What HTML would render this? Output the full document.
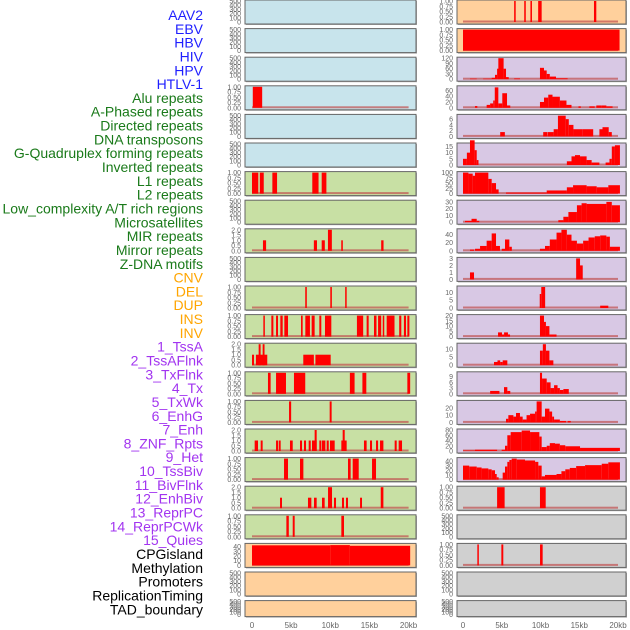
<!DOCTYPE html>
<html><head><meta charset="utf-8"><style>
html,body{margin:0;padding:0;background:#fff;}
svg{display:block;font-family:"Liberation Sans",Arial,sans-serif;}
</style></head><body>
<svg id="chart" width="630" height="630" viewBox="0 0 630 630" xmlns="http://www.w3.org/2000/svg"></svg>
<script>
const trackLabels = ["AAV2","EBV","HBV","HIV","HPV","HTLV-1","Alu repeats","A-Phased repeats","Directed repeats","DNA transposons","G-Quadruplex forming repeats","Inverted repeats","L1 repeats","L2 repeats","Low_complexity A/T rich regions","Microsatellites","MIR repeats","Mirror repeats","Z-DNA motifs","CNV","DEL","DUP","INS","INV","1_TssA","2_TssAFlnk","3_TxFlnk","4_Tx","5_TxWk","6_EnhG","7_Enh","8_ZNF_Rpts","9_Het","10_TssBiv","11_BivFlnk","12_EnhBiv","13_ReprPC","14_ReprPCWk","15_Quies","CPGisland","Methylation","Promoters","ReplicationTiming","TAD_boundary"];
const labelGroups = [0,0,0,0,0,0,1,1,1,1,1,1,1,1,1,1,1,1,1,2,2,2,2,2,3,3,3,3,3,3,3,3,3,3,3,3,3,3,3,4,4,4,4,4];
const xTickValues = [0,5,10,15,20];
const xTickLabels = ["0","5kb","10kb","15kb","20kb"];

const leftBg = ["b","b","b","b","b","b","g","g","g","g","g","g","g","g","g","g","g","g","g","o","o","o"];
const rightBg = ["o","o","l","l","l","l","l","l","l","l","l","l","l","l","l","l","l","y","y","y","y","y"];
const leftTicks = ["E","E","E","P","E","E","P","E","T","E","P","P","T","P","P","T","P","T","P",[0,10,20,30,40],"E","E"];
const leftMax = [500,500,500,1,500,500,1,500,2,500,1,1,2,1,1,2,1,2,1,45,500,500];
const rightTicks = ["P","P",[0,30,60,90,120],[0,20,40,60],[0,2,4,6],[0,5,10,15],[0,25,50,75,100],[0,10,20,30],[0,20,40],[0,1,2,3],[0,5,10],[0,5,10,15,20],[0,5,10],[0,3,6,9],[0,10,20],[0,20,40,60,80],[0,10,20,30,40],"P","E","P","E","E"];
const rightMax = [1,1,120,72,7.3,17,100,31,52,3,13.5,20,13,11,29,80,45,1,500,1,500,500];

const leftBars = [
 [],[],[],
 [[0.1,1.3,1]],
 [],[],
 [[0,0.8,1],[1.0,1.5,1],[2.6,3.2,1],[7.7,8.5,1],[8.9,9.5,1]],
 [],
 [[1.4,1.8,1],[7.9,8.3,1],[8.9,9.3,1],[9.7,10.2,2],[11.4,11.6,1],[16.5,16.8,1]],
 [],
 [[6.8,7.0,1],[10.0,10.2,1],[11.9,12.05,1]],
 [[1.45,1.6,1],[2.47,2.73,1],[3.07,3.32,1],[3.62,3.92,1],[4.13,4.6,1],[6.26,6.47,1],[6.81,7.4,1],[7.62,8.0,1],[8.6,8.85,1],[9.32,10.13,1],[13.4,14.2,1],[14.64,14.9,1],[15.58,15.9,1],[16.1,16.5,1],[16.7,16.86,1],[17.2,18.2,1],[18.8,19.07,1],[19.4,19.67,1],[19.84,20.1,1]],
 [[0,0.26,1],[0.5,1.95,1],[0.85,1.1,2],[1.36,1.6,2],[6.55,7.9,1],[8.1,10.05,1]],
 [[2.04,2.38,1],[3.07,4.34,1],[5.36,6.8,1],[12.5,13.1,1],[14.1,14.6,1],[19.84,20.2,1]],
 [[4.73,5.0,1],[9.92,10.17,1]],
 [[0.34,0.77,1],[1.11,1.36,1],[3.07,3.32,1],[3.41,3.66,1],[4.85,5.2,1],[6.13,6.39,1],[6.64,6.9,1],[7.24,7.5,1],[7.66,8.26,1],[8.0,8.26,2],[8.6,8.86,1],[8.94,9.37,1],[9.54,9.8,1],[9.96,10.56,1],[11.41,12.09,1],[11.58,11.84,2],[14.3,14.64,1],[15.07,15.33,1],[15.84,16.1,1],[16.35,16.78,1],[18.22,18.48,1],[18.73,19.16,1]],
 [[4.09,4.6,1],[6.13,6.56,1],[12.26,12.6,1],[12.86,13.63,1],[15.33,15.84,1]],
 [[3.58,3.83,1],[7.15,7.58,1],[7.92,8.26,1],[8.94,9.28,1],[9.71,10.22,2],[10.47,10.73,1],[11.49,11.75,1],[12.0,12.26,1],[13.8,14.05,1],[16.44,16.78,2]],
 [[4.39,4.7,1],[5.2,5.45,1],[11.41,11.75,1]],
 [[0,10,43],[10,12.5,43.5],[12.5,20.2,42]],
 [],[]
];

const rightBars = [
 [[6.6,6.8,1],[7.9,8.1,1],[8.7,8.9,1],[9.7,10.15,1],[16.9,17.2,1]],
 [[0,20.2,1]],
 [[0.9,1.77,3],[2.6,3.7,3],[3.7,4.13,8],[4.13,4.4,25],[4.4,4.56,60],[4.56,5.24,120],[5.24,5.55,60],[5.55,5.9,12],[6.6,7.35,4],[9.93,10.45,65],[10.45,10.8,50],[10.8,11.2,30],[11.2,12.0,15],[12.0,13.5,5]],
 [[1.55,1.85,6],[3.05,3.5,10],[3.5,3.9,15],[3.9,4.1,25],[4.1,4.56,70],[4.56,5.07,15],[5.07,5.68,50],[5.68,6.1,8],[9.93,10.45,20],[10.45,11.0,35],[11.0,11.55,45],[11.55,12.5,38],[12.5,13.35,25],[13.35,14.0,10],[14.9,15.2,5],[16.3,17.0,5],[17.2,17.9,8],[17.9,18.5,8],[18.5,19.3,5]],
 [[4.8,5.4,1.5],[10.35,10.9,1.5],[10.95,11.7,1.5],[11.7,12.25,2.5],[12.25,13.25,7.2],[13.25,13.65,6],[13.65,14.25,4],[14.25,15.45,2.5],[15.45,16.8,2.5],[17.6,18.0,2.5],[18.0,18.8,3.2],[18.8,19.2,1.5]],
 [[0,0.5,5],[0.5,0.9,10],[0.9,1.5,20],[1.5,1.77,12],[1.77,2.0,4],[13.4,14.0,3],[14.0,14.45,7],[14.45,15.1,8],[15.1,15.95,7],[15.95,16.6,4],[16.6,17.6,2],[18.4,18.9,2],[18.9,19.2,5],[19.2,19.6,15],[19.6,20.25,16]],
 [[0,0.7,100],[0.7,1.25,95],[1.25,1.55,85],[1.55,3.27,100],[3.27,3.7,70],[3.7,4.26,50],[4.26,4.6,20],[5.55,10.8,5],[10.8,13.4,15],[13.4,14.2,30],[14.2,15.95,40],[15.95,17.25,35],[17.25,18.75,30],[18.75,20.25,40]],
 [[0.26,1.1,2],[1.1,1.77,5],[1.77,2.1,2],[12.3,12.95,3],[12.95,13.6,8],[13.6,14.7,15],[14.7,15.3,25],[15.3,15.95,28],[15.95,18.5,27],[18.5,19.2,30],[19.2,20.25,25]],
 [[0.9,1.42,3],[1.55,2.2,5],[2.2,3.05,12],[3.05,3.7,25],[3.7,4.26,43],[4.26,4.77,12],[5.0,5.42,5],[5.42,5.98,28],[5.98,6.3,10],[9.93,10.58,5],[10.58,11.2,12],[11.2,12.07,28],[12.07,12.7,45],[12.7,13.4,52],[13.4,14.0,40],[14.0,14.7,25],[14.7,15.5,18],[15.5,16.2,25],[16.2,17.0,33],[17.0,17.7,36],[17.7,18.5,38],[18.5,18.95,35],[18.95,20.25,10]],
 [[0.9,1.42,1],[14.6,15.1,3],[15.1,15.45,2]],
 [[9.9,10.1,9],[10.1,10.6,13.5],[17.7,18.75,1.5]],
 [[4.52,5.03,4],[5.03,5.3,2],[5.3,5.8,4],[5.8,6.07,2],[9.93,10.45,20],[10.45,10.7,14],[10.7,11.15,10],[11.15,12.07,2]],
 [[4.0,4.45,2],[4.45,4.8,3],[4.8,5.12,2],[5.12,5.72,3],[9.93,10.3,9],[10.3,10.7,13],[10.7,11.15,9],[11.15,11.66,3]],
 [[3.5,4.7,1.5],[5.29,5.72,3.5],[5.72,6.1,1.5],[9.93,10.2,11],[10.2,10.8,8],[10.8,11.3,6],[11.3,11.75,3],[11.75,12.2,4.5],[12.2,12.5,3],[12.5,12.95,2],[12.95,13.65,2.5]],
 [[5.55,5.85,5],[5.85,6.5,10],[6.5,6.84,8],[6.84,7.35,13],[7.35,7.7,8],[7.7,8.2,4],[8.2,8.65,10],[8.65,9.3,12],[9.3,9.5,15],[9.5,10.15,29],[10.15,10.58,8],[10.58,11.15,19],[11.15,11.5,15],[11.5,11.75,8],[11.75,12.5,4],[12.5,13.3,2],[13.5,13.9,2]],
 [[0,1.55,2],[1.55,4.4,5],[4.99,5.42,5],[5.42,5.72,20],[5.72,6.15,60],[6.15,7.57,72],[7.57,8.65,78],[8.65,9.85,72],[9.85,10.15,55],[10.15,10.8,15],[10.8,11.2,20],[11.2,11.87,30],[11.87,12.5,28],[12.5,13.2,22],[13.2,15.1,18],[15.1,20.25,12]],
 [[0,0.8,30],[0.8,1.77,28],[1.77,2.4,26],[2.4,3.27,24],[3.27,3.7,22],[3.7,4.13,20],[4.13,4.35,12],[4.35,4.6,5],[5.12,5.42,15],[5.42,5.72,28],[5.72,5.98,38],[5.98,6.28,42],[6.28,6.93,45],[6.93,8.0,43],[8.0,9.3,41],[9.3,9.72,38],[9.72,10.15,30],[10.15,10.58,7],[10.58,12.07,10],[12.07,12.7,12],[12.7,13.2,18],[13.2,13.78,22],[13.78,14.6,25],[14.6,15.75,29],[15.75,17.9,31],[17.9,18.75,34],[18.75,20.25,37]],
 [[4.4,5.37,1],[9.93,10.67,1]],
 [],
 [[1.85,2.03,1],[4.95,5.2,1],[9.94,10.28,1]],
 [],[]
];

const NS = "http://www.w3.org/2000/svg";
const svg = document.getElementById("chart");
const bgColors = {b:"#c8e4ec",g:"#c8e0a4",o:"#ffd09c",l:"#d8c8e4",y:"#d0d0d0"};
const labelColors = ["#1f1fff","#1a7a1a","#ffa500","#a234f0","#000000"];
function mk(tag, attrs, parent){const e=document.createElementNS(NS,tag);for(const k in attrs)e.setAttribute(k,attrs[k]);(parent||svg).appendChild(e);return e;}

// labels
trackLabels.forEach((t,i)=>{
  const e=mk("text",{x:203,y:(15+i*13.82+5).toFixed(1),"text-anchor":"end","font-size":"14",fill:labelColors[labelGroups[i]]});
  e.textContent=t;
  
  
});

function xLeft(kb){return 252+kb*7.83;}
function xRight(kb){return 463+kb*7.75;}
function rowTop(i){return i*28.6;}
function rowH(i){return i===21?16:24;}

function tickSet(spec){
  if(spec==="E") return {vals:[0,100,200,300,400,500],fmt:v=>String(v)};
  if(spec==="P") return {vals:[0,0.25,0.5,0.75,1],fmt:v=>v.toFixed(2)};
  if(spec==="T") return {vals:[0,0.5,1,1.5,2],fmt:v=>v.toFixed(1)};
  return {vals:spec,fmt:v=>String(v)};
}

function drawPanel(i, side){
  const isL = side==="left";
  const x0 = isL?245:457, x1 = isL?416:626;
  const top=rowTop(i), h=rowH(i);
  const bg = (isL?leftBg:rightBg)[i];
  const ymax = (isL?leftMax:rightMax)[i];
  const bars = (isL?leftBars:rightBars)[i];
  const xs = isL?xLeft:xRight;
  const g = mk("g",{});
  
  
  mk("rect",{x:x0+1,y:top+1,width:x1-x0,height:h,fill:"#aaa"},g);
  mk("rect",{x:x0,y:top,width:x1-x0,height:h,fill:bgColors[bg],stroke:"#666","stroke-width":1},g);
  const yb = top+h-2, yt = top+1;
  const ys = v=> yb - (v/ymax)*(yb-yt);
  // ticks
  const ts = tickSet((isL?leftTicks:rightTicks)[i]);
  ts.vals.forEach(v=>{
    const t=mk("text",{x:x0-4,y:(ys(v)+2.5).toFixed(1),"text-anchor":"end","font-size":"7",fill:"#666"},g);
    t.textContent=ts.fmt(v);
    
    
  });
  if(bars.length){
    const bl=mk("rect",{x:xs(0),y:yb-1.5,width:xs(20)-xs(0),height:2,fill:"#c05050","fill-opacity":0.7},g);
    
    
  }
  bars.forEach(b=>{
    const xa=xs(b[0]), xb=xs(b[1]);
    const r=mk("rect",{x:xa.toFixed(2),y:ys(b[2]).toFixed(2),width:Math.max(1.5,xb-xa).toFixed(2),height:(yb-ys(b[2])).toFixed(2),fill:"#ff0000"},g);
    
    
  });
}
for(let i=0;i<22;i++){drawPanel(i,"left");drawPanel(i,"right");}

// x axes
[["left",xLeft],["right",xRight]].forEach(([s,f])=>{
  xTickValues.forEach((v,j)=>{
    const t=mk("text",{x:f(v).toFixed(1),y:628,"text-anchor":"middle","font-size":"8",fill:"#666"});
    t.textContent=xTickLabels[j];
    
    
  });
});
</script>
</body></html>
